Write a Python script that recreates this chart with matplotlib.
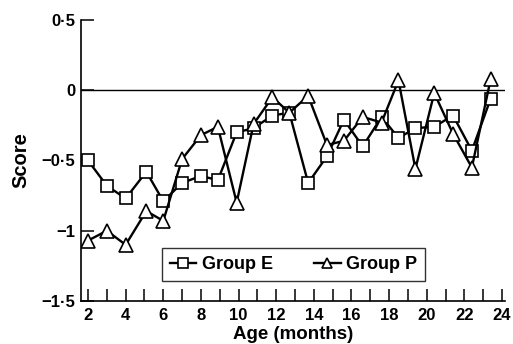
import matplotlib
matplotlib.use("Agg")
import matplotlib.pyplot as plt

plt.rcParams['font.family'] = ['Liberation Sans', 'DejaVu Sans']

# ages (months) where the points sit, shared by both groups
age = [2.0, 3.0, 4.0, 5.1, 6.0, 7.0, 8.0, 8.9, 9.9, 10.8, 11.8, 12.7,
       13.7, 14.7, 15.6, 16.6, 17.6, 18.5, 19.4, 20.4, 21.4, 22.4, 23.4]
group_e = [-0.50, -0.68, -0.77, -0.58, -0.79, -0.66, -0.61, -0.64, -0.30, -0.27, -0.18, -0.16,
           -0.66, -0.47, -0.21, -0.40, -0.19, -0.34, -0.27, -0.26, -0.18, -0.43, -0.06]
group_p = [-1.07, -1.00, -1.10, -0.86, -0.93, -0.49, -0.32, -0.26, -0.80, -0.24, -0.05, -0.16,
           -0.04, -0.39, -0.36, -0.19, -0.23, 0.07, -0.56, -0.02, -0.31, -0.55, 0.08]

x_ticks = list(range(2, 25))
x_labels = [str(t) if t % 2 == 0 else '' for t in x_ticks]
y_ticks = [0.5, 0, -0.5, -1, -1.5]
y_labels = ['0\u00b75', '0', '\u22120\u00b75', '\u22121', '\u22121\u00b75']

fig = plt.figure(figsize=(5.13, 3.44), dpi=100)
ax = fig.add_axes([0.158, 0.125, 0.826, 0.817])

ax.axhline(0, color='black', lw=1.0, zorder=1)

ax.plot(age, group_e, '-', color='black', lw=1.7, marker='s', ms=8,
        mfc='white', mec='black', mew=1.2, label='Group E', zorder=3)
ax.plot(age, group_p, '-', color='black', lw=1.7, marker='^', ms=10,
        mfc='white', mec='black', mew=1.2, label='Group P', zorder=3)

ax.set_xlim(1.63, 24.15)
ax.set_ylim(-1.5, 0.5)
ax.spines['top'].set_visible(False)
ax.spines['right'].set_visible(False)
ax.spines['left'].set_linewidth(1.2)
ax.spines['bottom'].set_linewidth(1.2)

ax.set_xticks(x_ticks)
ax.set_xticklabels(x_labels, fontsize=12, fontweight='bold')
ax.set_yticks(y_ticks)
ax.set_yticklabels(y_labels, fontsize=12, fontweight='bold')
ax.tick_params(axis='both', direction='in', length=9, width=1.1)
ax.tick_params(axis='x', pad=5)
ax.tick_params(axis='y', pad=4)

ax.set_xlabel('Age (months)', fontsize=13.5, fontweight='bold', labelpad=2)
ax.set_ylabel('Score', fontsize=14.5, fontweight='bold', labelpad=8)

leg = ax.legend(loc='lower left', bbox_to_anchor=(0.191, 0.071), ncol=2,
                frameon=True, fancybox=False, handlelength=1.45, handletextpad=0.3,
                columnspacing=2.3, borderpad=0.45, borderaxespad=0,
                prop={'size': 13, 'weight': 'bold'})
leg.get_frame().set_edgecolor('black')
leg.get_frame().set_linewidth(1.0)
for h in leg.legend_handles:
    h.set_markersize(6.5)

fig.savefig('out.png', dpi=100)
